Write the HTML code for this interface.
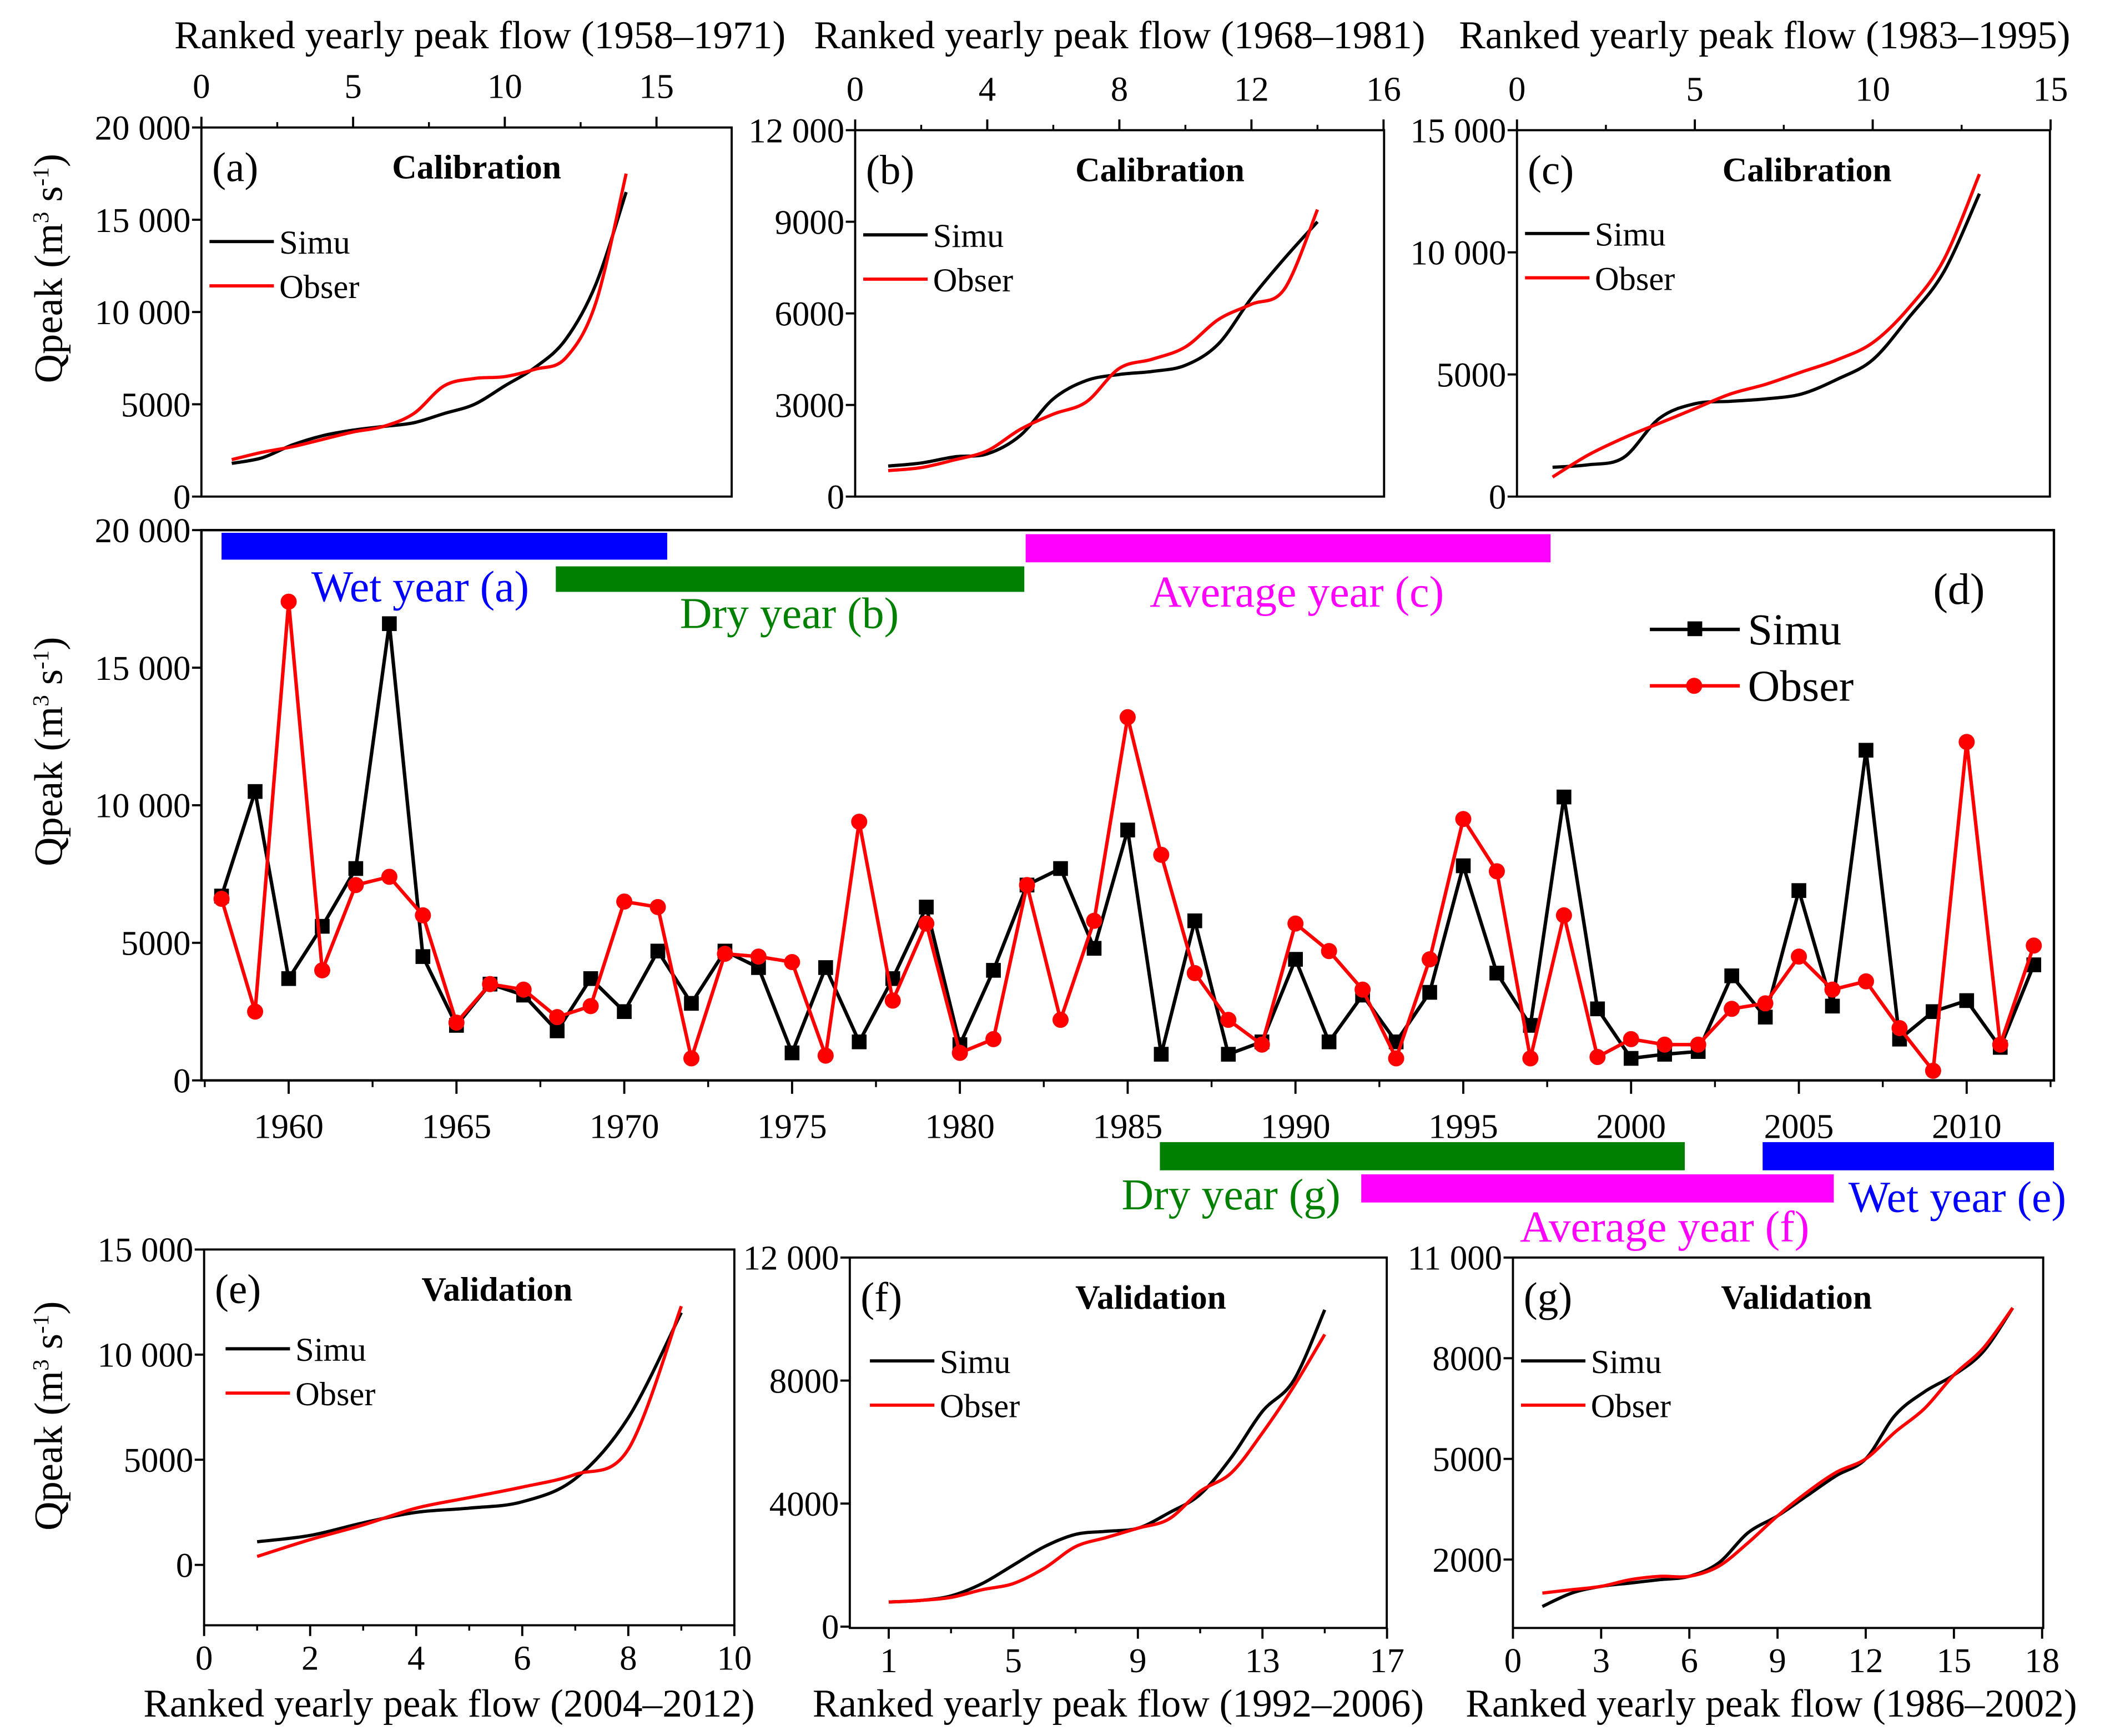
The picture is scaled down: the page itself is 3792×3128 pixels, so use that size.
<!DOCTYPE html>
<html><head><meta charset="utf-8"><style>
html,body{margin:0;padding:0;background:#fff}
svg{display:block}
svg text{font-family:"Liberation Serif","Times New Roman",serif}
</style></head><body>
<svg id="fig" font-family="Liberation Serif, serif" width="3792" height="3128" viewBox="0 0 1568 1293.5" xmlns="http://www.w3.org/2000/svg"></svg>
<script>
// ---- Panel (d) data ----
const years = [];
for (let y = 1958; y <= 2012; y++) years.push(y);
const simuD = [6700,10500,3700,5600,7700,16600,4500,2000,3500,3100,1800,3700,2500,4700,2800,4700,4100,1000,4100,1400,3700,6300,1300,4000,7100,7700,4800,9100,950,5800,950,1400,4400,1400,3100,1400,3200,7800,3900,2000,10300,2600,800,950,1050,3800,2300,6900,2700,12000,1500,2500,2900,1200,4200];
const obserD = [6600,2500,17400,4000,7100,7400,6000,2100,3500,3300,2300,2700,6500,6300,800,4600,4500,4300,900,9400,2900,5700,1000,1500,7100,2200,5800,13200,8200,3900,2200,1300,5700,4700,3300,800,4400,9500,7600,800,6000,850,1500,1300,1300,2600,2800,4500,3300,3600,1900,350,12300,1300,4900];
const yTicksD = [0,5000,10000,15000,20000];
const yTickLabelsD = ["0","5000","10 000","15 000","20 000"];
const xTicksD = [1960,1965,1970,1975,1980,1985,1990,1995,2000,2005,2010];

// ---- Small panels data ----
const simuA = [1800,2100,2800,3300,3600,3800,4000,4500,5000,6000,7000,8500,11500,16500];
const obserA = [2000,2400,2700,3100,3500,3800,4500,6000,6400,6500,6900,7500,10500,17500];
const simuB = [1000,1100,1300,1400,2000,3200,3800,4000,4100,4300,5000,6500,7800,9000];
const obserB = [850,950,1200,1500,2200,2700,3100,4200,4500,4900,5800,6300,6800,9400];
const simuC = [1200,1300,1600,3200,3800,3900,4000,4200,4800,5600,7300,9200,12400];
const obserC = [800,1700,2400,3000,3600,4200,4600,5100,5600,6300,7700,9700,13200];
const simuE = [1100,1400,2000,2500,2700,3000,4100,7000,12000];
const obserE = [400,1200,1900,2700,3200,3700,4300,5500,12300];
const simuF = [800,850,1000,1400,2000,2600,3000,3100,3200,3700,4300,5500,7000,8000,10300];
const obserF = [800,850,950,1200,1400,1900,2600,2900,3200,3500,4400,5000,6300,7800,9500];
const simuG = [600,1000,1200,1300,1400,1500,1900,2800,3300,3900,4500,5000,6300,7000,7500,8200,9500];
const obserG = [1000,1100,1200,1400,1500,1500,1800,2500,3300,4000,4600,5000,5800,6500,7500,8300,9500];

const NS = "http://www.w3.org/2000/svg";
const FONT = "Liberation Serif, serif";
const svg = document.getElementById('fig');
function mk(tag, attrs, parent, text) {
  const e = document.createElementNS(NS, tag);
  for (const k in attrs) e.setAttribute(k, attrs[k]);
  if (tag === 'text') e.setAttribute('font-family', FONT);
  if (text !== undefined) e.textContent = text;
  (parent || svg).appendChild(e);
  return e;
}
function smoothPath(pts) {
  if (!pts.length) return '';
  let d = `M${pts[0][0]},${pts[0][1]}`;
  for (let i = 0; i < pts.length - 1; i++) {
    const p0 = pts[Math.max(0, i - 1)], p1 = pts[i], p2 = pts[i + 1], p3 = pts[Math.min(pts.length - 1, i + 2)];
    const c1 = [p1[0] + (p2[0] - p0[0]) / 6, p1[1] + (p2[1] - p0[1]) / 6];
    const c2 = [p2[0] - (p3[0] - p1[0]) / 6, p2[1] - (p3[1] - p1[1]) / 6];
    d += ` C${c1[0]},${c1[1]} ${c2[0]},${c2[1]} ${p2[0]},${p2[1]}`;
  }
  return d;
}
const QTITLE = 'Qpeak  (m<tspan font-size="17" dy="-10">3</tspan><tspan dy="10"> s</tspan><tspan font-size="17" dy="-10">-1</tspan><tspan dy="10">)</tspan>';
const TICK = 26, AXT = 29.5;

function panel(cfg) {
  const g = mk('g', {});
  
  
  const X = v => cfg.xa + (v - cfg.xva) * cfg.pxx;
  const Y = v => cfg.y0 - v * cfg.pxy;
  const fr = mk('rect', {x: cfg.x0, y: cfg.yt, width: cfg.x1 - cfg.x0, height: cfg.yb - cfg.yt, fill: 'none', stroke: '#000', 'stroke-width': 1.6}, g);
  
  
  const top = cfg.axisTop;
  const ay = top ? cfg.yt : cfg.yb;
  cfg.xTicks.forEach(t => {
    const x = X(t);
    mk('line', {x1: x, x2: x, y1: ay, y2: top ? ay - 8 : ay + 8, stroke: '#000', 'stroke-width': 1.6}, g);
    const lb = mk('text', {x: x, y: top ? ay - 22 : ay + 33, 'font-size': TICK, 'text-anchor': 'middle'}, g, String(t));
    
    
  });
  (cfg.minorX || []).forEach(t => {
    const x = X(t);
    mk('line', {x1: x, x2: x, y1: ay, y2: top ? ay - 4 : ay + 4, stroke: '#000', 'stroke-width': 1.4}, g);
  });
  cfg.yTicks.forEach((t, i) => {
    const y = Y(t);
    mk('line', {x1: cfg.x0, x2: cfg.x0 - 7, y1: y, y2: y, stroke: '#000', 'stroke-width': 1.6}, g);
    const lb = mk('text', {x: cfg.x0 - 8, y: y + 9, 'font-size': TICK, 'text-anchor': 'end'}, g, cfg.yLabels[i]);
    
    
  });
  const xt = mk('text', {x: (cfg.x0 + cfg.x1) / 2 + (cfg.titleDx || 0), y: top ? 36 : 1279, 'font-size': AXT, 'text-anchor': 'middle'}, g, cfg.xTitle);
  
  
  const s = mk('path', {d: smoothPath(cfg.simu.map((v, i) => [X(i + 1), Y(v)])), fill: 'none', stroke: '#000', 'stroke-width': 2.4}, g);
  
  
  const o = mk('path', {d: smoothPath(cfg.obser.map((v, i) => [X(i + 1), Y(v)])), fill: 'none', stroke: '#f00', 'stroke-width': 2.4}, g);
  
  
  const pl = mk('text', {x: cfg.x0 + 8, y: cfg.yt + 40, 'font-size': 31}, g, cfg.letter);
  
  
  const ti = mk('text', {x: cfg.x0 + cfg.titleX, y: cfg.yt + 38, 'font-size': 25.5, 'font-weight': 'bold'}, g, cfg.title);
  
  
  const lx = cfg.x0 + (cfg.legX || 6), ly = cfg.yt + cfg.legY;
  mk('line', {x1: lx, x2: lx + 48, y1: ly, y2: ly, stroke: '#000', 'stroke-width': 2.4}, g);
  const l1 = mk('text', {x: lx + 52, y: ly + 9, 'font-size': 25}, g, 'Simu');
  
  
  mk('line', {x1: lx, x2: lx + 48, y1: ly + 33, y2: ly + 33, stroke: '#f00', 'stroke-width': 2.4}, g);
  const l2 = mk('text', {x: lx + 52, y: ly + 42, 'font-size': 25}, g, 'Obser');
  
  
  if (cfg.yTitleY) {
    const yt = mk('text', {x: 0, y: 0, 'font-size': 30, 'text-anchor': 'middle', transform: `translate(46,${cfg.yTitleY}) rotate(-90)`}, g);
    
    
    yt.innerHTML = QTITLE;
  }
}

panel({name:'panel-a', x0:150, x1:545, yt:95, yb:370, xa:150, xva:0, pxx:22.6, y0:370, pxy:275/20000, yTicks:[0,5000,10000,15000,20000], yLabels:["0","5000","10 000","15 000","20 000"], xTicks:[0,5,10,15], minorX:[2.5,7.5,12.5], axisTop:true, xTitle:'Ranked yearly peak flow (1958\u20131971)', simu:simuA, obser:obserA, letter:'(a)', title:'Calibration', titleX:142, legY:85, yTitleY:200, titleDx:10});
panel({name:'panel-b', x0:637, x1:1031, yt:97, yb:370, xa:637, xva:0, pxx:24.6, y0:370, pxy:273/12000, yTicks:[0,3000,6000,9000,12000], yLabels:["0","3000","6000","9000","12 000"], xTicks:[0,4,8,12,16], minorX:[2,6,10,14], axisTop:true, xTitle:'Ranked yearly peak flow (1968\u20131981)', simu:simuB, obser:obserB, letter:'(b)', title:'Calibration', titleX:164, legY:78});
panel({name:'panel-c', x0:1130, x1:1527, yt:97, yb:370, xa:1130, xva:0, pxx:26.5, y0:370, pxy:273/15000, yTicks:[0,5000,10000,15000], yLabels:["0","5000","10 000","15 000"], xTicks:[0,5,10,15], minorX:[2.5,7.5,12.5], axisTop:true, xTitle:'Ranked yearly peak flow (1983\u20131995)', simu:simuC, obser:obserC, letter:'(c)', title:'Calibration', titleX:153, legY:77, titleDx:-14});
panel({name:'panel-e', x0:152, x1:547, yt:931, yb:1211, xa:152, xva:0, pxx:39.5, y0:1166, pxy:235/15000, yTicks:[0,5000,10000,15000], yLabels:["0","5000","10 000","15 000"], xTicks:[0,2,4,6,8,10], minorX:[1,3,5,7,9], axisTop:false, xTitle:'Ranked yearly peak flow (2004\u20132012)', simu:simuE, obser:obserE, letter:'(e)', title:'Validation', titleX:162, legY:74, legX:16, yTitleY:1055, titleDx:-15});
panel({name:'panel-f', x0:633, x1:1033, yt:937, yb:1213, xa:662, xva:1, pxx:23.2, y0:1212, pxy:275/12000, yTicks:[0,4000,8000,12000], yLabels:["0","4000","8000","12 000"], xTicks:[1,5,9,13,17], minorX:[3,7,11,15], axisTop:false, xTitle:'Ranked yearly peak flow (1992\u20132006)', simu:simuF, obser:obserF, letter:'(f)', title:'Validation', titleX:168, legY:77, legX:15});
panel({name:'panel-g', x0:1127, x1:1522, yt:937, yb:1213, xa:1127, xva:0, pxx:21.9, y0:1212, pxy:0.025, yTicks:[2000,5000,8000,11000], yLabels:["2000","5000","8000","11 000"], xTicks:[0,3,6,9,12,15,18], axisTop:false, xTitle:'Ranked yearly peak flow (1986\u20132002)', simu:simuG, obser:obserG, letter:'(g)', title:'Validation', titleX:155, legY:77, legX:6, titleDx:-5});

// ---- Panel (d) ----
(function(){
  const g = mk('g', {});
  
  
  const x0 = 150, x1 = 1530, yt = 395, yb = 805;
  const X = yr => 215 + (yr - 1960) * 25;
  const Y = v => yb - v * (yb - yt) / 20000;
  const fr = mk('rect', {x: x0, y: yt, width: x1 - x0, height: yb - yt, fill: 'none', stroke: '#000', 'stroke-width': 1.8}, g);
  
  
  yTicksD.forEach((t, i) => {
    const y = Y(t);
    mk('line', {x1: x0, x2: x0 - 7, y1: y, y2: y, stroke: '#000', 'stroke-width': 1.6}, g);
    const lb = mk('text', {x: x0 - 8, y: y + 9, 'font-size': TICK, 'text-anchor': 'end'}, g, yTickLabelsD[i]);
    
    
  });
  xTicksD.forEach(t => {
    const x = X(t);
    mk('line', {x1: x, x2: x, y1: yb, y2: yb + 10, stroke: '#000', 'stroke-width': 1.6}, g);
    mk('line', {x1: x + 62.5, x2: x + 62.5, y1: yb, y2: yb + 5, stroke: '#000', 'stroke-width': 1.4}, g);
    const lb = mk('text', {x: x, y: yb + 43, 'font-size': TICK, 'text-anchor': 'middle'}, g, String(t));
    
    
  });
  mk('line', {x1: X(1958)-12.5, x2: X(1958)-12.5, y1: yb, y2: yb + 5, stroke: '#000', 'stroke-width': 1.4}, g);
  const yt2 = mk('text', {x: 0, y: 0, 'font-size': 30, 'text-anchor': 'middle', transform: `translate(46,560) rotate(-90)`}, g);
  
  
  yt2.innerHTML = QTITLE;
  const bars = [
    ['wet-year-a-bar', 165, 497, 397, 20, '#0000ff'],
    ['dry-year-b-bar', 414, 763, 422, 19, '#008000'],
    ['average-year-c-bar', 764, 1155, 398, 21, '#ff00ff'],
    ['dry-year-g-bar', 864, 1255, 851, 21, '#008000'],
    ['average-year-f-bar', 1014, 1366, 875, 21, '#ff00ff'],
    ['wet-year-e-bar', 1313, 1530, 851, 21, '#0000ff']
  ];
  bars.forEach(b => {
    const r = mk('rect', {x: b[1], y: b[3], width: b[2] - b[1], height: b[4], fill: b[5]}, g);
    
    
  });
  const labels = [
    ['wet-year-a-label', 313, 448, 'Wet year (a)', '#0000ff'],
    ['dry-year-b-label', 588, 468, 'Dry year (b)', '#008000'],
    ['average-year-c-label', 966, 452, 'Average year (c)', '#ff00ff'],
    ['dry-year-g-label', 917, 901, 'Dry year (g)', '#008000'],
    ['average-year-f-label', 1240, 925, 'Average year (f)', '#ff00ff'],
    ['wet-year-e-label', 1458, 903, 'Wet year (e)', '#0000ff']
  ];
  labels.forEach(l => {
    const t = mk('text', {x: l[1], y: l[2], 'font-size': 33, 'text-anchor': 'middle', fill: l[4]}, g, l[3]);
    
    
  });
  const dl = mk('text', {x: 1440, y: 450, 'font-size': 33}, g, '(d)');
  
  
  const sp = simuD.map((v, i) => `${X(years[i])},${Y(v)}`).join(' ');
  const op = obserD.map((v, i) => `${X(years[i])},${Y(v)}`).join(' ');
  const sl = mk('polyline', {points: sp, fill: 'none', stroke: '#000', 'stroke-width': 2.6}, g);
  
  
  simuD.forEach((v, i) => {
    const m = mk('rect', {x: X(years[i]) - 5.5, y: Y(v) - 5.5, width: 11, height: 11, fill: '#000'}, g);
    
    
  });
  const ol = mk('polyline', {points: op, fill: 'none', stroke: '#f00', 'stroke-width': 2.6}, g);
  
  
  obserD.forEach((v, i) => {
    const m = mk('circle', {cx: X(years[i]), cy: Y(v), r: 6, fill: '#f00'}, g);
    
    
  });
  mk('line', {x1: 1229, x2: 1296, y1: 469, y2: 469, stroke: '#000', 'stroke-width': 2.6}, g);
  mk('rect', {x: 1257, y: 463, width: 11, height: 11, fill: '#000'}, g);
  const ls = mk('text', {x: 1302, y: 480, 'font-size': 33}, g, 'Simu');
  
  
  mk('line', {x1: 1229, x2: 1296, y1: 511, y2: 511, stroke: '#f00', 'stroke-width': 2.6}, g);
  mk('circle', {cx: 1262, cy: 511, r: 6, fill: '#f00'}, g);
  const lo = mk('text', {x: 1302, y: 522, 'font-size': 33}, g, 'Obser');
  
  
})();
</script>
</body></html>
